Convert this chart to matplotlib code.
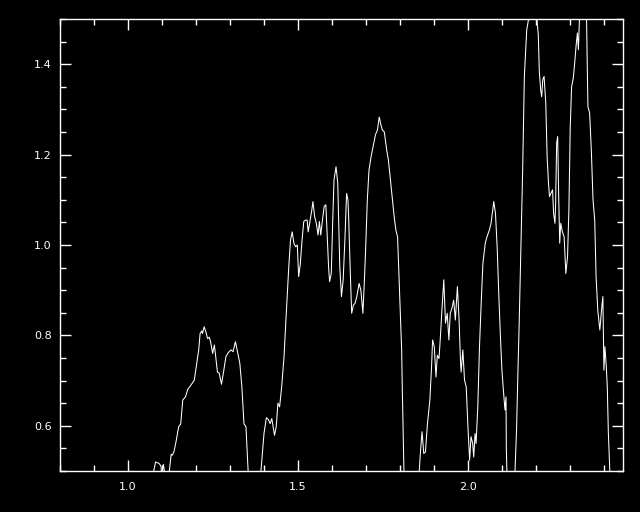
import numpy as np
import matplotlib.pyplot as plt
from matplotlib.ticker import MultipleLocator

# spectrum (values outside 0.5-1.5 are clipped by the axes)
wave = [1.073, 1.081, 1.091, 1.097, 1.099, 1.104, 1.109, 1.120, 1.127, 1.130,
        1.135, 1.142, 1.149, 1.155, 1.161, 1.169, 1.176, 1.185, 1.195, 1.202,
        1.208, 1.212, 1.217, 1.219, 1.224, 1.229, 1.234, 1.239, 1.243, 1.249,
        1.254, 1.257, 1.263, 1.268, 1.275, 1.281, 1.288, 1.295, 1.303, 1.309,
        1.316, 1.322, 1.329, 1.335, 1.341, 1.347, 1.354, 1.371,
        1.390, 1.400, 1.407, 1.413, 1.418, 1.423, 1.431, 1.436, 1.441, 1.446,
        1.452, 1.459, 1.465, 1.473, 1.478, 1.483, 1.488, 1.493, 1.498, 1.502,
        1.507, 1.512, 1.517, 1.522, 1.527, 1.530, 1.535, 1.540, 1.544, 1.549,
        1.554, 1.559, 1.563, 1.567, 1.572, 1.577, 1.582, 1.586, 1.590, 1.593,
        1.598, 1.602, 1.606, 1.612, 1.617, 1.620, 1.623, 1.628, 1.633, 1.638,
        1.643, 1.647, 1.649, 1.654, 1.658, 1.663, 1.668, 1.673, 1.680, 1.685,
        1.691, 1.695, 1.699, 1.704, 1.709, 1.715, 1.722, 1.728, 1.734, 1.739,
        1.744, 1.748, 1.754, 1.761, 1.766, 1.776, 1.783, 1.788, 1.793, 1.798,
        1.802, 1.805, 1.807, 1.810, 1.812, 1.833,
        1.856, 1.860, 1.865, 1.870, 1.875, 1.881, 1.888, 1.893, 1.896, 1.901,
        1.906, 1.910, 1.915, 1.919, 1.924, 1.929, 1.934, 1.939, 1.944, 1.948,
        1.953, 1.958, 1.963, 1.969, 1.974, 1.978, 1.980, 1.985, 1.990, 1.995,
        2.000, 2.005, 2.009, 2.014, 2.017, 2.021, 2.024, 2.029, 2.034, 2.039,
        2.044, 2.051, 2.056, 2.063, 2.068, 2.073, 2.076, 2.081, 2.086, 2.091,
        2.096, 2.100, 2.105, 2.109, 2.112, 2.113, 2.115, 2.126,
        2.138, 2.143, 2.146, 2.151, 2.156, 2.161, 2.166, 2.171, 2.173, 2.178,
        2.190, 2.203, 2.207, 2.210, 2.214, 2.217, 2.220, 2.224, 2.229, 2.233,
        2.237, 2.240, 2.244, 2.249, 2.252, 2.256, 2.258, 2.261, 2.264, 2.267,
        2.270, 2.273, 2.278, 2.283, 2.288, 2.293, 2.297, 2.301, 2.305, 2.310,
        2.314, 2.318, 2.322, 2.325, 2.328, 2.338, 2.349, 2.353, 2.358, 2.363,
        2.368, 2.373, 2.377, 2.382, 2.385, 2.388, 2.393, 2.397, 2.400, 2.403,
        2.407, 2.410, 2.413, 2.418, 2.427]

flux = [0.49, 0.520, 0.517, 0.511, 0.49, 0.515, 0.49, 0.49, 0.537, 0.535,
        0.542, 0.568, 0.598, 0.604, 0.657, 0.664, 0.681, 0.690, 0.701, 0.738,
        0.768, 0.804, 0.810, 0.804, 0.819, 0.808, 0.793, 0.796, 0.786, 0.760,
        0.779, 0.760, 0.719, 0.717, 0.692, 0.719, 0.753, 0.762, 0.768, 0.764,
        0.786, 0.764, 0.738, 0.686, 0.605, 0.598, 0.49, 0.35,
        0.49, 0.583, 0.618, 0.614, 0.605, 0.616, 0.579, 0.598, 0.650, 0.642,
        0.686, 0.753, 0.841, 0.952, 1.011, 1.029, 1.004, 0.996, 1.000, 0.930,
        0.959, 1.011, 1.052, 1.055, 1.055, 1.029, 1.052, 1.074, 1.096, 1.063,
        1.048, 1.022, 1.052, 1.022, 1.055, 1.085, 1.089, 1.018, 0.952, 0.919,
        0.937, 1.048, 1.144, 1.173, 1.137, 1.048, 0.952, 0.886, 0.923, 1.011,
        1.114, 1.100, 1.063, 0.937, 0.849, 0.867, 0.871, 0.886, 0.915, 0.900,
        0.849, 0.915, 0.989, 1.100, 1.166, 1.195, 1.221, 1.244, 1.255, 1.283,
        1.266, 1.255, 1.250, 1.210, 1.188, 1.114, 1.063, 1.033, 1.018, 0.915,
        0.827, 0.768, 0.679, 0.561, 0.49, 0.35,
        0.49, 0.539, 0.587, 0.539, 0.542, 0.605, 0.657, 0.731, 0.790, 0.775,
        0.708, 0.756, 0.749, 0.797, 0.863, 0.923, 0.827, 0.849, 0.790, 0.849,
        0.860, 0.878, 0.834, 0.908, 0.834, 0.745, 0.719, 0.768, 0.701, 0.686,
        0.598, 0.524, 0.576, 0.561, 0.531, 0.583, 0.561, 0.642, 0.775, 0.871,
        0.959, 1.004, 1.018, 1.033, 1.048, 1.077, 1.096, 1.070, 0.996, 0.886,
        0.790, 0.723, 0.672, 0.635, 0.664, 0.548, 0.49, 0.35,
        0.49, 0.590, 0.686, 0.834, 1.004, 1.166, 1.373, 1.447, 1.476, 1.498,
        1.65, 1.498, 1.465, 1.384, 1.343, 1.328, 1.365, 1.373, 1.314, 1.195,
        1.137, 1.107, 1.114, 1.122, 1.070, 1.048, 1.092, 1.225, 1.240, 1.107,
        1.004, 1.048, 1.029, 1.018, 0.937, 0.974, 1.077, 1.262, 1.350, 1.369,
        1.402, 1.439, 1.469, 1.432, 1.498, 1.65, 1.498, 1.306, 1.292, 1.210,
        1.100, 1.055, 0.930, 0.856, 0.834, 0.812, 0.856, 0.886, 0.723, 0.775,
        0.731, 0.686, 0.587, 0.49, 0.35]

x_ticks = [1.0, 1.5, 2.0]
x_labels = ['1.0', '1.5', '2.0']
y_ticks = [0.6, 0.8, 1.0, 1.2, 1.4]
y_labels = ['0.6', '0.8', '1.0', '1.2', '1.4']

fig = plt.figure(figsize=(6.4, 5.12), dpi=100, facecolor='black')
ax = fig.add_axes([0.0938, 0.080, 0.879, 0.883], facecolor='black')

ax.plot(wave, flux, color='white', linewidth=0.75)

ax.set_xlim(0.8, 2.455)
ax.set_ylim(0.5, 1.5)

ax.set_xticks(x_ticks)
ax.set_xticklabels(x_labels)
ax.set_yticks(y_ticks)
ax.set_yticklabels(y_labels)
ax.xaxis.set_minor_locator(MultipleLocator(0.1))
ax.yaxis.set_minor_locator(MultipleLocator(0.05))

for s in ax.spines.values():
    s.set_color('white')
    s.set_linewidth(1.0)

ax.tick_params(which='both', direction='in', top=True, right=True,
               color='white', labelcolor='white', labelsize=8, width=1.0)
ax.tick_params(which='major', length=8)
ax.tick_params(which='minor', length=4.5)
ax.tick_params(axis='x', pad=8)
ax.tick_params(axis='y', pad=6)

fig.savefig('out.png', dpi=100, facecolor='black')
